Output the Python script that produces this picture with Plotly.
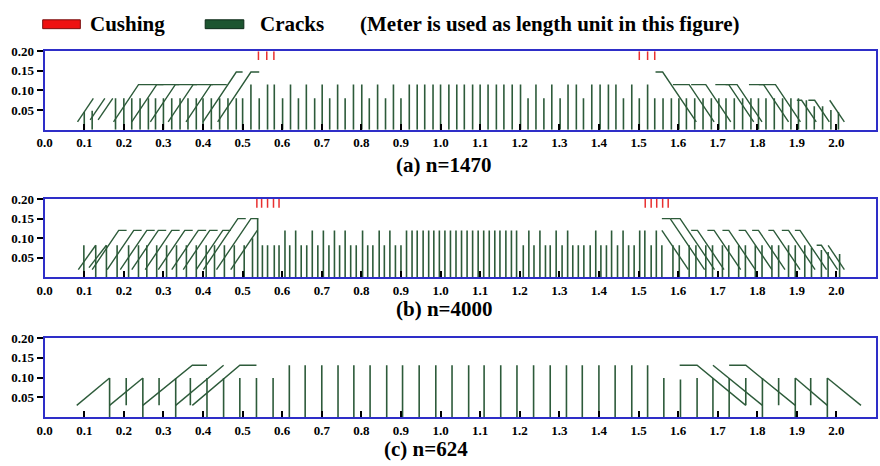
import plotly.graph_objects as go

W, H = 880, 466
FONT = "Liberation Serif"
GREEN = "#2d5b3a"
RED = "#e83030"
BLUE = "#2e2ec8"

x_tick_vals = [0.0, 0.1, 0.2, 0.3, 0.4, 0.5, 0.6, 0.7, 0.8, 0.9, 1.0, 1.1, 1.2, 1.3, 1.4, 1.5, 1.6, 1.7, 1.8, 1.9, 2.0, 2.1]
x_tick_text = ["0.0", "0.1", "0.2", "0.3", "0.4", "0.5", "0.6", "0.7", "0.8", "0.9", "1.0", "1.1", "1.2", "1.3", "1.4", "1.5", "1.6", "1.7", "1.8", "1.9", "2.0", "2.1"]
y_tick_vals = [0.05, 0.10, 0.15, 0.20]
y_tick_text = ["0.05", "0.10", "0.15", "0.20"]

panel_titles = ["(a) n=1470", "(b) n=4000", "(c) n=624"]
legend_labels = ["Cushing", "Cracks", "(Meter is used as length unit in this figure)"]

# ---------------- panel (a) n=1470 ----------------
a_vx = [0.100, 0.120, 0.179, 0.200, 0.220, 0.241, 0.262, 0.280, 0.300, 0.321, 0.342, 0.362, 0.383, 0.400,
        0.421, 0.442, 0.463, 0.484, 0.500, 0.521, 0.542, 0.563, 0.580, 0.601, 0.621,
        0.641, 0.661, 0.682, 0.701, 0.720, 0.740, 0.759, 0.780, 0.801, 0.820, 0.841, 0.861, 0.881, 0.900,
        0.921, 0.941, 0.960, 0.981, 1.000, 1.021, 1.041, 1.060, 1.081, 1.100, 1.120, 1.141, 1.160, 1.181,
        1.202, 1.221, 1.241, 1.261, 1.281, 1.302, 1.322, 1.343, 1.361, 1.382, 1.403, 1.424, 1.443, 1.462,
        1.483, 1.502, 1.523, 1.541, 1.562, 1.583, 1.602, 1.621, 1.642, 1.663, 1.684, 1.703, 1.721, 1.742,
        1.763, 1.784, 1.803, 1.822, 1.843, 1.864, 1.885, 1.904, 1.924, 1.944, 1.965, 1.986, 2.005]
a_vh = [0.045, 0.048, 0.080, 0.080, 0.080, 0.080, 0.080, 0.080, 0.080, 0.080, 0.080, 0.080, 0.080, 0.080,
        0.080, 0.080, 0.080, 0.080, 0.080, 0.115, 0.080, 0.115, 0.115, 0.080, 0.115,
        0.080, 0.115, 0.080, 0.115, 0.080, 0.115, 0.080, 0.115, 0.115, 0.080, 0.115, 0.080, 0.115, 0.080,
        0.115, 0.115, 0.115, 0.115, 0.115, 0.115, 0.115, 0.115, 0.115, 0.115, 0.115, 0.115, 0.115, 0.115,
        0.115, 0.080, 0.115, 0.080, 0.115, 0.080, 0.115, 0.115, 0.080, 0.115, 0.115, 0.115, 0.115, 0.080,
        0.115, 0.080, 0.115, 0.080, 0.080, 0.080, 0.080, 0.080, 0.080, 0.080, 0.080, 0.080, 0.080, 0.080,
        0.080, 0.080, 0.080, 0.080, 0.080, 0.080, 0.080, 0.080, 0.075, 0.060, 0.060, 0.050, 0.045]
# inclined cracks: three vertices each
a_cx = [[0.083, 0.123, 0.123], [0.115, 0.152, 0.152], [0.135, 0.172, 0.172],
        [0.174, 0.237, 0.300], [0.220, 0.283, 0.340], [0.267, 0.330, 0.385], [0.312, 0.375, 0.425],
        [0.357, 0.420, 0.460], [0.400, 0.484, 0.500], [0.437, 0.521, 0.542],
        [1.543, 1.561, 1.646], [1.587, 1.628, 1.691], [1.633, 1.670, 1.733], [1.694, 1.728, 1.791],
        [1.720, 1.749, 1.812], [1.779, 1.816, 1.879], [1.804, 1.846, 1.909], [1.900, 1.912, 1.949],
        [1.929, 1.945, 1.982], [1.983, 1.983, 2.020]]
a_cy = [[0.020, 0.080, 0.080], [0.025, 0.080, 0.080], [0.025, 0.080, 0.080],
        [0.020, 0.115, 0.115], [0.020, 0.115, 0.115], [0.020, 0.115, 0.115], [0.020, 0.115, 0.115],
        [0.020, 0.115, 0.115], [0.020, 0.147, 0.147], [0.020, 0.147, 0.147],
        [0.147, 0.147, 0.020], [0.115, 0.115, 0.020], [0.115, 0.115, 0.020], [0.115, 0.115, 0.020],
        [0.115, 0.115, 0.020], [0.115, 0.115, 0.020], [0.115, 0.115, 0.020], [0.075, 0.075, 0.020],
        [0.075, 0.075, 0.020], [0.075, 0.075, 0.020]]
a_cush = [0.540, 0.561, 0.579, 1.502, 1.523, 1.541]

# ---------------- panel (b) n=4000 ----------------
b_vx = [0.099, 0.129, 0.156, 0.183, 0.212, 0.237, 0.258, 0.283, 0.308, 0.333, 0.358, 0.383, 0.408, 0.429,
        0.454, 0.479, 0.504, 0.525, 0.538, 0.550, 0.563, 0.580, 0.592, 0.607, 0.619,
        0.634, 0.648, 0.662, 0.676, 0.690, 0.704, 0.718, 0.732, 0.745, 0.759, 0.773, 0.787, 0.803, 0.816,
        0.829, 0.845, 0.858, 0.872, 0.886, 0.900, 0.914, 0.928, 0.941, 0.956, 0.970, 0.983, 0.997, 1.011,
        1.025, 1.039, 1.053, 1.067, 1.081, 1.095, 1.109, 1.123, 1.137, 1.150, 1.165, 1.179, 1.192, 1.209,
        1.223, 1.236, 1.251, 1.265, 1.277, 1.292, 1.307, 1.321, 1.334, 1.348, 1.362, 1.378, 1.392, 1.405,
        1.419, 1.432, 1.447, 1.461, 1.475, 1.489, 1.503, 1.516, 1.532, 1.545, 1.559,
        1.587, 1.603, 1.628, 1.645, 1.670, 1.687, 1.712, 1.728, 1.753, 1.770, 1.795, 1.812, 1.837, 1.854,
        1.879, 1.896, 1.920, 1.937, 1.962, 1.979, 2.008]
b_vh = [0.082, 0.082, 0.082, 0.082, 0.082, 0.082, 0.082, 0.082, 0.082, 0.082, 0.082, 0.082, 0.082, 0.082,
        0.082, 0.082, 0.082, 0.100, 0.150, 0.082, 0.082, 0.082, 0.082, 0.120, 0.082,
        0.120, 0.082, 0.082, 0.120, 0.082, 0.120, 0.082, 0.120, 0.082, 0.120, 0.082, 0.082, 0.120, 0.082,
        0.082, 0.120, 0.082, 0.120, 0.082, 0.082, 0.120, 0.120, 0.120, 0.120, 0.120, 0.120, 0.120, 0.120,
        0.120, 0.120, 0.120, 0.120, 0.120, 0.120, 0.120, 0.120, 0.120, 0.120, 0.120, 0.120, 0.120, 0.082,
        0.120, 0.082, 0.120, 0.082, 0.082, 0.120, 0.082, 0.120, 0.082, 0.082, 0.082, 0.082, 0.120, 0.082,
        0.082, 0.120, 0.082, 0.120, 0.082, 0.082, 0.120, 0.120, 0.082, 0.120, 0.082,
        0.082, 0.082, 0.082, 0.082, 0.082, 0.082, 0.082, 0.082, 0.082, 0.082, 0.082, 0.082, 0.082, 0.082,
        0.082, 0.082, 0.082, 0.075, 0.070, 0.065, 0.060]
b_cx = [[0.085, 0.129, 0.129], [0.112, 0.156, 0.156],
        [0.120, 0.187, 0.207], [0.158, 0.225, 0.245], [0.191, 0.258, 0.278], [0.220, 0.287, 0.307],
        [0.254, 0.321, 0.341], [0.287, 0.354, 0.374], [0.321, 0.388, 0.408], [0.350, 0.417, 0.437],
        [0.383, 0.450, 0.470], [0.401, 0.488, 0.508], [0.434, 0.521, 0.540], [0.470, 0.537, 0.537],
        [1.559, 1.580, 1.667], [1.582, 1.605, 1.692], [1.559, 1.559, 1.626], [1.633, 1.649, 1.716],
        [1.674, 1.691, 1.758], [1.712, 1.728, 1.795], [1.753, 1.770, 1.837], [1.787, 1.803, 1.870],
        [1.828, 1.841, 1.908], [1.862, 1.879, 1.946], [1.895, 1.908, 1.975], [1.950, 1.962, 2.003],
        [1.979, 1.979, 2.020]]
b_cy = [[0.020, 0.082, 0.082], [0.025, 0.082, 0.082],
        [0.020, 0.120, 0.120], [0.020, 0.120, 0.120], [0.020, 0.120, 0.120], [0.020, 0.120, 0.120],
        [0.020, 0.120, 0.120], [0.020, 0.120, 0.120], [0.020, 0.120, 0.120], [0.020, 0.120, 0.120],
        [0.020, 0.120, 0.120], [0.020, 0.150, 0.150], [0.020, 0.150, 0.150], [0.020, 0.120, 0.120],
        [0.150, 0.150, 0.020], [0.150, 0.150, 0.020], [0.120, 0.120, 0.020], [0.120, 0.120, 0.020],
        [0.120, 0.120, 0.020], [0.120, 0.120, 0.020], [0.120, 0.120, 0.020], [0.120, 0.120, 0.020],
        [0.120, 0.120, 0.020], [0.120, 0.120, 0.020], [0.120, 0.120, 0.020], [0.082, 0.082, 0.020],
        [0.082, 0.082, 0.020]]
b_cush = [0.536, 0.548, 0.563, 0.578, 0.592, 1.517, 1.532, 1.546, 1.561, 1.575]

# ---------------- panel (c) n=624 ----------------
c_vx = [0.164, 0.206, 0.248, 0.289, 0.331, 0.368, 0.410, 0.452, 0.493, 0.535, 0.577,
        0.618, 0.658, 0.700, 0.741, 0.781, 0.822, 0.864, 0.904, 0.946, 0.988, 1.029, 1.071, 1.110,
        1.152, 1.193, 1.235, 1.277, 1.318, 1.358, 1.400, 1.441, 1.483, 1.523,
        1.564, 1.606, 1.648, 1.688, 1.729, 1.771, 1.813, 1.854, 1.896, 1.935, 1.977]
c_vh = [0.099, 0.099, 0.099, 0.099, 0.099, 0.099, 0.099, 0.099, 0.099, 0.099, 0.099,
        0.131, 0.131, 0.131, 0.131, 0.131, 0.131, 0.131, 0.131, 0.131, 0.131, 0.131, 0.131, 0.131,
        0.131, 0.131, 0.131, 0.131, 0.131, 0.131, 0.131, 0.131, 0.131, 0.131,
        0.099, 0.095, 0.099, 0.099, 0.099, 0.099, 0.099, 0.099, 0.099, 0.099, 0.099]
c_vb = [0.0, 0.030, 0.0, 0.030, 0.0, 0.030, 0.0, 0.0, 0.0, 0.0, 0.0,
        0.0, 0.0, 0.0, 0.0, 0.0, 0.0, 0.0, 0.0, 0.0, 0.0, 0.0, 0.0, 0.0,
        0.0, 0.0, 0.0, 0.0, 0.0, 0.0, 0.0, 0.0, 0.0, 0.0,
        0.0, 0.0, 0.0, 0.0, 0.0, 0.030, 0.0, 0.030, 0.0, 0.030, 0.0]
c_cx = [[0.081, 0.164, 0.164], [0.164, 0.248, 0.248], [0.248, 0.373, 0.410], [0.331, 0.452, 0.452],
        [0.373, 0.493, 0.535],
        [1.604, 1.648, 1.771], [1.688, 1.688, 1.813], [1.729, 1.771, 1.896], [1.896, 1.896, 1.977],
        [1.977, 1.977, 2.062]]
c_cy = [[0.030, 0.099, 0.099], [0.030, 0.099, 0.099], [0.030, 0.131, 0.131], [0.030, 0.131, 0.131],
        [0.030, 0.131, 0.131],
        [0.131, 0.131, 0.030], [0.131, 0.131, 0.030], [0.131, 0.131, 0.030], [0.099, 0.099, 0.030],
        [0.099, 0.099, 0.030]]
c_cush = []

cush_top, cush_bottom = 0.200, 0.178


def seg_xy(xs, tops, bottoms):
    X, Y = [], []
    for x, t, b in zip(xs, tops, bottoms):
        X += [x, x, None]
        Y += [b, t, None]
    return X, Y


def poly_xy(pxs, pys):
    X, Y = [], []
    for px_, py_ in zip(pxs, pys):
        X += list(px_) + [None]
        Y += list(py_) + [None]
    return X, Y


panels = [
    (a_vx, a_vh, [0.0] * len(a_vx), a_cx, a_cy, a_cush),
    (b_vx, b_vh, [0.0] * len(b_vx), b_cx, b_cy, b_cush),
    (c_vx, c_vh, c_vb, c_cx, c_cy, c_cush),
]

# pixel layout of each panel: (top px, bottom px)
panel_px = [(45, 124.5), (195, 274.5), (336, 416.5)]
title_px = [(439, 160), (440, 307), (422, 449)]


def py(p):
    return 1 - p / H


def px(p):
    return p / W


fig = go.Figure()
layout = dict(
    width=W, height=H, margin=dict(l=0, r=0, t=0, b=0),
    paper_bgcolor="white", plot_bgcolor="white", showlegend=False,
    annotations=[], shapes=[],
)

for i, (vx, vh, vb, cx, cy, cush) in enumerate(panels):
    n = "" if i == 0 else str(i + 1)
    xa, ya = "x" + n, "y" + n
    X, Y = seg_xy(vx, vh, vb)
    fig.add_trace(go.Scatter(x=X, y=Y, mode="lines", line=dict(color=GREEN, width=1.6),
                             xaxis=xa, yaxis=ya, hoverinfo="skip"))
    X, Y = poly_xy(cx, cy)
    fig.add_trace(go.Scatter(x=X, y=Y, mode="lines", line=dict(color=GREEN, width=1.4),
                             xaxis=xa, yaxis=ya, hoverinfo="skip"))
    if cush:
        X, Y = seg_xy(cush, [cush_top] * len(cush), [cush_bottom] * len(cush))
        fig.add_trace(go.Scatter(x=X, y=Y, mode="lines", line=dict(color=RED, width=1.5),
                                 xaxis=xa, yaxis=ya, hoverinfo="skip"))
    top, bot = panel_px[i]
    layout["xaxis" + n] = dict(
        domain=[px(37), px(876)], range=[0, 2.1], anchor=ya,
        showline=True, linecolor=BLUE, linewidth=2, mirror=True,
        ticks="inside", ticklen=6, tickwidth=2, tickcolor="black",
        tickvals=x_tick_vals, ticktext=x_tick_text,
        tickfont=dict(family=FONT, size=13, color="black", weight="bold"),
        showgrid=False, zeroline=False, fixedrange=True,
    )
    layout["yaxis" + n] = dict(
        domain=[py(bot), py(top)], range=[0, 0.2], anchor=xa,
        showline=True, linecolor=BLUE, linewidth=2, mirror=True,
        ticks="outside", ticklen=6, tickwidth=1.5, tickcolor="black",
        tickvals=y_tick_vals, ticktext=y_tick_text,
        tickfont=dict(family=FONT, size=13, color="black", weight="bold"),
        showgrid=False, zeroline=False, fixedrange=True,
    )
    tx, ty = title_px[i]
    layout["annotations"].append(dict(
        x=px(tx), y=py(ty), xref="paper", yref="paper", text=panel_titles[i],
        showarrow=False, xanchor="center", yanchor="middle", borderpad=0,
        font=dict(family=FONT, size=21, color="black", weight="bold")))

# legend (drawn manually)
layout["shapes"] += [
    dict(type="rect", xref="paper", yref="paper", x0=px(35), x1=px(73), y0=py(22), y1=py(13),
         fillcolor="#ee1111", line=dict(color="#7a1010", width=1)),
    dict(type="rect", xref="paper", yref="paper", x0=px(199), x1=px(238), y0=py(22), y1=py(13),
         fillcolor="#1d5530", line=dict(color="#0d2a18", width=1)),
]
for lx, txt in zip([82, 253, 354], legend_labels):
    layout["annotations"].append(dict(
        x=px(lx), y=py(17), xref="paper", yref="paper", text=txt, showarrow=False,
        xanchor="left", yanchor="middle", borderpad=0,
        font=dict(family=FONT, size=21, color="black", weight="bold")))

fig.update_layout(**layout)
fig.write_html("out.html")
